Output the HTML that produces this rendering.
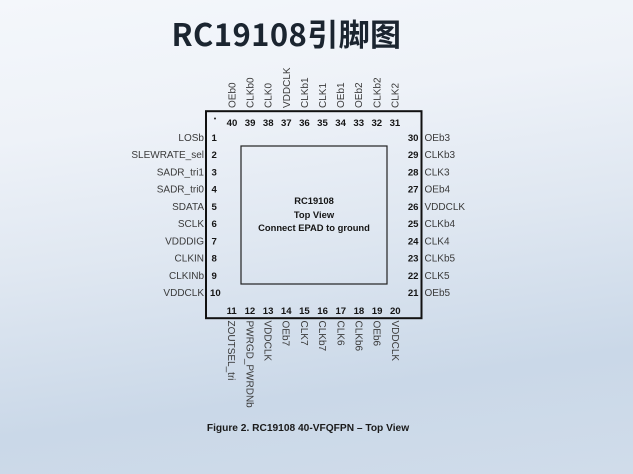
<!DOCTYPE html>
<html><head><meta charset="utf-8"><style>
html,body{margin:0;padding:0;}
body{width:633px;height:474px;overflow:hidden;background:linear-gradient(172deg,#f4f7fb 0%,#eef2f8 25%,#dfe7f1 50%,#cad8e8 78%,#d0dcea 100%);}
svg{display:block;}
.l{font-family:"Liberation Sans",Arial,sans-serif;font-size:10px;fill:#3a3a3a;}
.n{font-family:"Liberation Sans",Arial,sans-serif;font-size:9.6px;font-weight:bold;fill:#151515;}
.c{font-family:"Liberation Sans",Arial,sans-serif;font-size:9.4px;font-weight:bold;fill:#151515;}
</style></head><body>
<svg width="633" height="474" viewBox="0 0 633 474" xmlns="http://www.w3.org/2000/svg">
<text x="171.5" y="46" style="font-family:'Noto Sans CJK SC','Liberation Sans',sans-serif;font-size:31px;font-weight:bold;fill:#1b2530;letter-spacing:0.4px">RC19108引脚图</text>

<rect x="206" y="111.2" width="215.5" height="207" fill="none" stroke="#111" stroke-width="2"/>
<rect x="241" y="146" width="146" height="138" fill="none" stroke="#222" stroke-width="1.2"/>
<circle cx="215" cy="118.5" r="1" fill="#222"/>

<!-- top numbers -->
<g class="n" text-anchor="middle">
<text x="232" y="126">40</text><text x="250.1" y="126">39</text><text x="268.2" y="126">38</text><text x="286.3" y="126">37</text><text x="304.4" y="126">36</text><text x="322.5" y="126">35</text><text x="340.6" y="126">34</text><text x="358.7" y="126">33</text><text x="376.8" y="126">32</text><text x="394.9" y="126">31</text>
</g>
<!-- top labels -->
<g class="l">
<text transform="translate(235.5,108) rotate(-90)">OEb0</text>
<text transform="translate(253.6,108) rotate(-90)">CLKb0</text>
<text transform="translate(271.7,108) rotate(-90)">CLK0</text>
<text transform="translate(289.8,108) rotate(-90)">VDDCLK</text>
<text transform="translate(307.9,108) rotate(-90)">CLKb1</text>
<text transform="translate(326,108) rotate(-90)">CLK1</text>
<text transform="translate(344.1,108) rotate(-90)">OEb1</text>
<text transform="translate(362.2,108) rotate(-90)">OEb2</text>
<text transform="translate(380.3,108) rotate(-90)">CLKb2</text>
<text transform="translate(398.4,108) rotate(-90)">CLK2</text>
</g>

<!-- left numbers -->
<g class="n">
<text x="211.5" y="140.8">1</text><text x="211.5" y="158.1">2</text><text x="211.5" y="175.4">3</text><text x="211.5" y="192.6">4</text><text x="211.5" y="209.9">5</text><text x="211.5" y="227.2">6</text><text x="211.5" y="244.4">7</text><text x="211.5" y="261.7">8</text><text x="211.5" y="279">9</text><text x="210" y="296.2">10</text>
</g>
<g class="l" text-anchor="end">
<text x="204" y="140.8">LOSb</text><text x="204" y="158.1">SLEWRATE_sel</text><text x="204" y="175.4">SADR_tri1</text><text x="204" y="192.6">SADR_tri0</text><text x="204" y="209.9">SDATA</text><text x="204" y="227.2">SCLK</text><text x="204" y="244.4">VDDDIG</text><text x="204" y="261.7">CLKIN</text><text x="204" y="279">CLKINb</text><text x="204" y="296.2">VDDCLK</text>
</g>

<!-- right numbers -->
<g class="n" text-anchor="end">
<text x="418.5" y="140.8">30</text><text x="418.5" y="158.1">29</text><text x="418.5" y="175.4">28</text><text x="418.5" y="192.6">27</text><text x="418.5" y="209.9">26</text><text x="418.5" y="227.2">25</text><text x="418.5" y="244.4">24</text><text x="418.5" y="261.7">23</text><text x="418.5" y="279">22</text><text x="418.5" y="296.2">21</text>
</g>
<g class="l">
<text x="424.5" y="140.8">OEb3</text><text x="424.5" y="158.1">CLKb3</text><text x="424.5" y="175.4">CLK3</text><text x="424.5" y="192.6">OEb4</text><text x="424.5" y="209.9">VDDCLK</text><text x="424.5" y="227.2">CLKb4</text><text x="424.5" y="244.4">CLK4</text><text x="424.5" y="261.7">CLKb5</text><text x="424.5" y="279">CLK5</text><text x="424.5" y="296.2">OEb5</text>
</g>

<!-- bottom numbers -->
<g class="n" text-anchor="middle">
<text x="231.7" y="314.2">11</text><text x="249.9" y="314.2">12</text><text x="268.1" y="314.2">13</text><text x="286.2" y="314.2">14</text><text x="304.4" y="314.2">15</text><text x="322.6" y="314.2">16</text><text x="340.8" y="314.2">17</text><text x="358.9" y="314.2">18</text><text x="377.1" y="314.2">19</text><text x="395.3" y="314.2">20</text>
</g>
<g class="l">
<text transform="translate(228.2,320.5) rotate(90)">ZOUTSEL_tri</text>
<text transform="translate(246.4,320.5) rotate(90)">PWRGD_PWRDNb</text>
<text transform="translate(264.6,320.5) rotate(90)">VDDCLK</text>
<text transform="translate(282.7,320.5) rotate(90)">OEb7</text>
<text transform="translate(300.9,320.5) rotate(90)">CLK7</text>
<text transform="translate(319.1,320.5) rotate(90)">CLKb7</text>
<text transform="translate(337.3,320.5) rotate(90)">CLK6</text>
<text transform="translate(355.4,320.5) rotate(90)">CLKb6</text>
<text transform="translate(373.6,320.5) rotate(90)">OEb6</text>
<text transform="translate(391.8,320.5) rotate(90)">VDDCLK</text>
</g>

<!-- center -->
<g class="c" text-anchor="middle">
<text x="314" y="204.2">RC19108</text>
<text x="314" y="217.8">Top View</text>
<text x="314" y="231">Connect EPAD to ground</text>
</g>

<text x="308" y="430.8" text-anchor="middle" style="font-family:'Liberation Sans',Arial,sans-serif;font-size:10.2px;font-weight:bold;fill:#1a1a1a">Figure 2. RC19108 40-VFQFPN – Top View</text>
</svg>
</body></html>
